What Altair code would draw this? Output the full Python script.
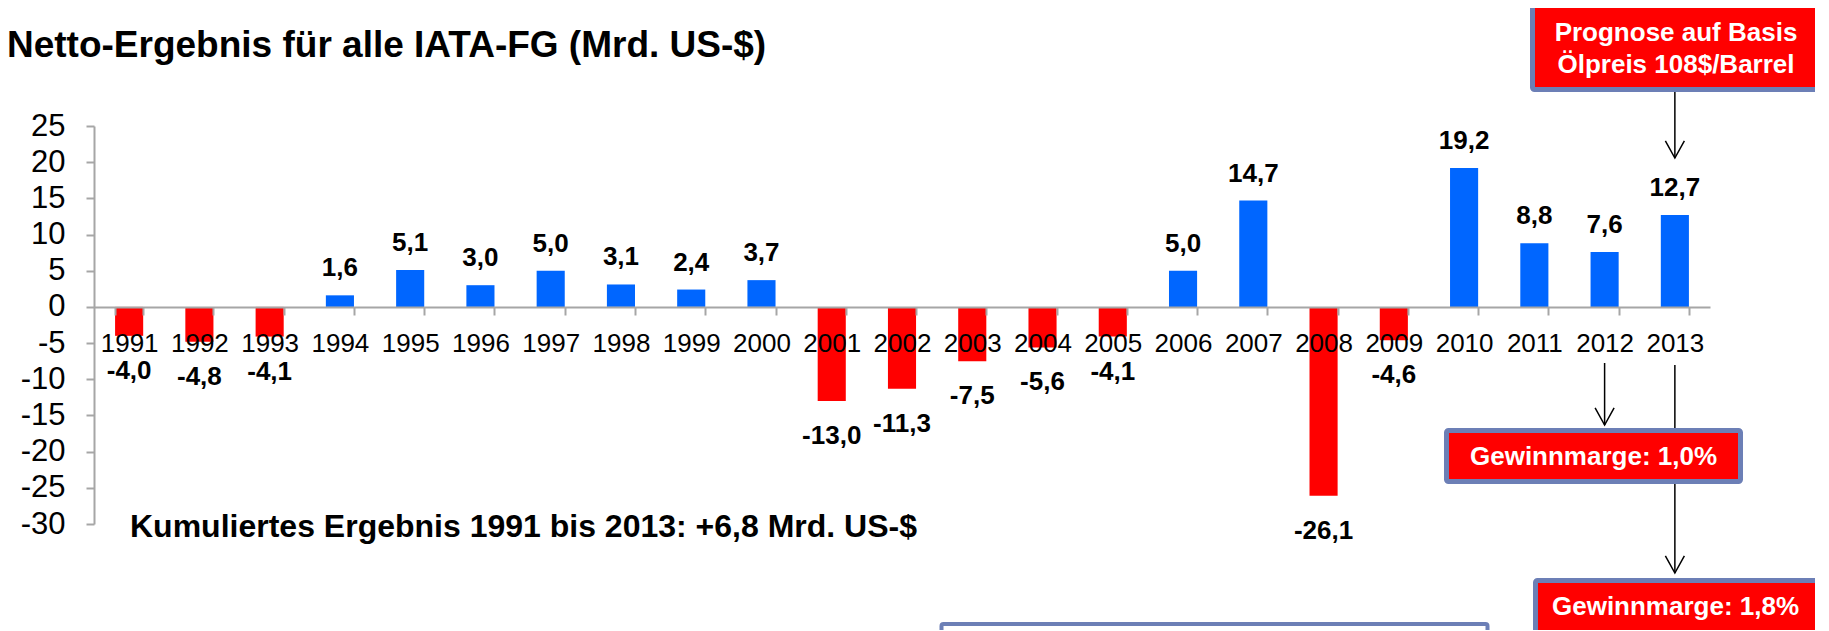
import altair as alt
import pandas as pd

FONT = "Liberation Sans"

years = ["1991", "1992", "1993", "1994", "1995", "1996", "1997", "1998", "1999", "2000",
         "2001", "2002", "2003", "2004", "2005", "2006", "2007", "2008", "2009", "2010",
         "2011", "2012", "2013"]
values = [-4.0, -4.8, -4.1, 1.6, 5.1, 3.0, 5.0, 3.1, 2.4, 3.7,
          -13.0, -11.3, -7.5, -5.6, -4.1, 5.0, 14.7, -26.1, -4.6, 19.2,
          8.8, 7.6, 12.7]
y_ticks = [-30, -25, -20, -15, -10, -5, 0, 5, 10, 15, 20, 25]

title_text = "Netto-Ergebnis für alle IATA-FG (Mrd. US-$)"
cumulative_text = "Kumuliertes Ergebnis 1991 bis 2013: +6,8 Mrd. US-$"
forecast_lines = ["Prognose auf Basis", "Ölpreis 108$/Barrel"]
margin_2012 = "Gewinnmarge: 1,0%"
margin_2013 = "Gewinnmarge: 1,8%"

df = pd.DataFrame({"year": years, "value": values})
df["label"] = [f"{v:.1f}".replace(".", ",") for v in values]
df["sign"] = ["pos" if v > 0 else "neg" for v in values]

W, H = 1616, 398
BOX_STROKE = "#6C7FB6"

base = alt.Chart(df)
xenc = alt.X("year:N", title=None,
             scale=alt.Scale(paddingInner=0.6, paddingOuter=0.3),
             axis=alt.Axis(zindex=1, offset=-217, tickBand="extent", labelAngle=0,
                           labelFontSize=26, labelPadding=15))
yenc = alt.Y("value:Q", title=None,
             scale=alt.Scale(domain=[-30, 25], nice=False),
             axis=alt.Axis(values=y_ticks, labelExpr="'' + datum.value",
                           labelFontSize=31, labelPadding=21))

bars = base.mark_bar().encode(
    x=xenc, y=yenc,
    color=alt.Color("sign:N", scale=alt.Scale(domain=["pos", "neg"], range=["#0066FF", "#FF0000"]), legend=None),
)

pos_labels = base.transform_filter("datum.value > 0").mark_text(
    dy=-27, fontSize=26, fontWeight="bold", font=FONT, baseline="middle", color="black"
).encode(x=xenc, y=yenc, text="label:N")
neg_labels = base.transform_filter("datum.value < 0").mark_text(
    dy=35, fontSize=26, fontWeight="bold", font=FONT, baseline="middle", color="black"
).encode(x=xenc, y=yenc, text="label:N")


def vline(year, y1, y2):
    return base.transform_filter(f"datum.year == '{year}'").mark_rule(
        color="black", strokeWidth=1.5
    ).encode(x=xenc, y=alt.value(y1), y2=alt.value(y2))


def head(year, ytip):
    return base.transform_filter(f"datum.year == '{year}'").mark_point(
        shape="M-1,-1.8L0,0L1,-1.8", filled=False, stroke="black", strokeWidth=1.5,
        size=361, opacity=1
    ).encode(x=xenc, y=alt.value(ytip))


one = pd.DataFrame({"k": [0]})


def box(x1, x2, y1, y2, fill, sw=5):
    return alt.Chart(one).mark_rect(
        fill=fill, stroke=BOX_STROKE, strokeWidth=sw, cornerRadius=2
    ).encode(x=alt.value(x1), x2=alt.value(x2), y=alt.value(y1), y2=alt.value(y2))


def label(text, x, y, size, color="black", align="center", weight="bold"):
    return alt.Chart(one).mark_text(
        text=text, fontSize=size, fontWeight=weight, font=FONT, color=color,
        align=align, baseline="alphabetic"
    ).encode(x=alt.value(x), y=alt.value(y))


layers = [
    bars, pos_labels, neg_labels,
    vline("2013", -34, 32), head("2013", 32),
    vline("2012", 237, 299), head("2012", 299),
    vline("2013", 239, 447), head("2013", 447),
    box(1438.5, 1725.5, -120.5, -36.5, "#FF0000"),
    label(forecast_lines[0], 1582, -85, 26, color="white"),
    label(forecast_lines[1], 1582, -53, 26, color="white"),
    box(1352.5, 1646.5, 304.5, 355.5, "#FF0000"),
    label(margin_2012, 1499.5, 339, 26, color="white"),
    box(1441.5, 1725.5, 454.5, 530, "#FF0000"),
    label(margin_2013, 1581.5, 489, 26, color="white"),
    box(847.5, 1393.5, 498, 530, "white", sw=4),
    label(title_text, -87, -69, 37, align="left"),
    label(cumulative_text, 36, 411, 32, align="left"),
]

chart = alt.layer(*layers).properties(
    width=W, height=H,
    autosize=alt.AutoSizeParams(type="none"),
    padding={"left": 86, "top": 118, "right": 105, "bottom": 106},
).configure_view(stroke=None).configure_axis(
    grid=False, labelFont=FONT, labelColor="black",
    domainColor="#A6A6A6", domainWidth=2, tickColor="#A6A6A6", tickWidth=2, tickSize=8,
)

chart.save("out.html", embed_options={"renderer": "svg", "actions": False})
